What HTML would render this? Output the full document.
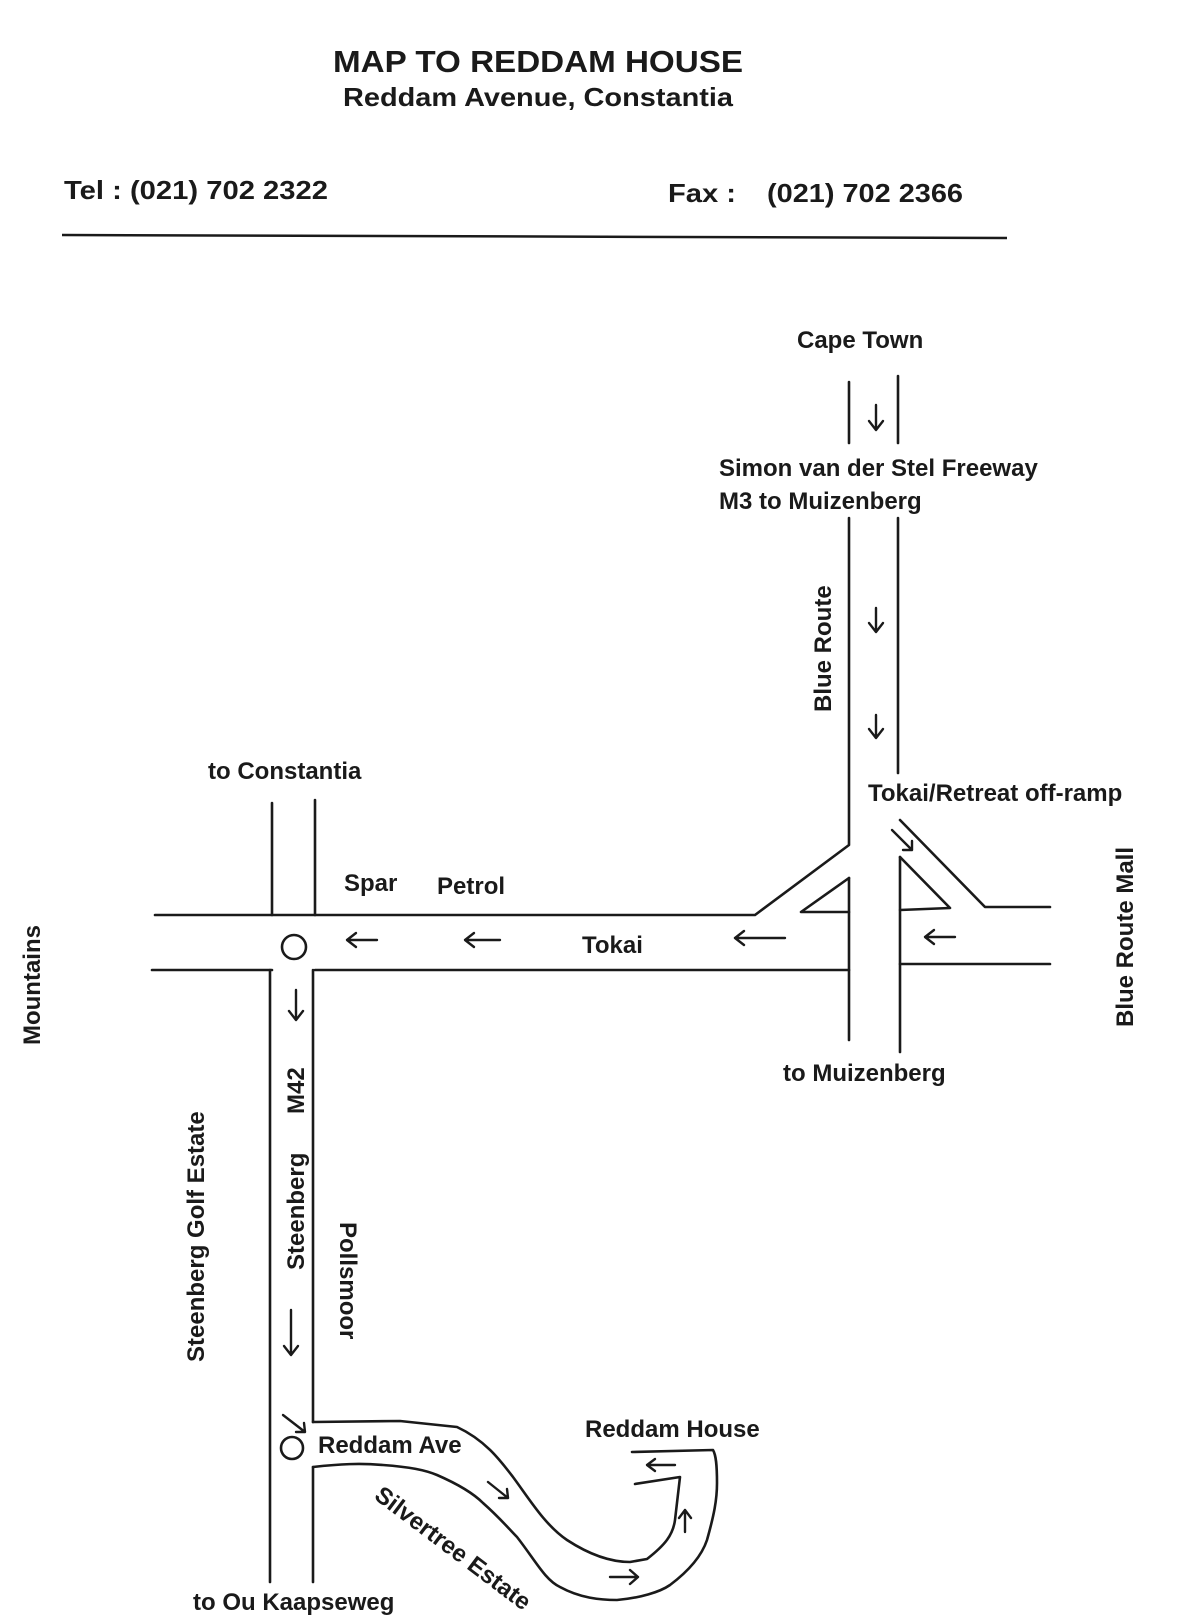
<!DOCTYPE html>
<html><head><meta charset="utf-8"><style>
html,body{margin:0;padding:0;background:#fff;}
svg{display:block;}
text{font-family:"Liberation Sans",Arial,sans-serif;fill:#1a1a1a;}
.b{font-weight:bold;}
</style></head><body>
<svg width="1188" height="1621" viewBox="0 0 1188 1621" xmlns="http://www.w3.org/2000/svg">
<rect width="1188" height="1621" fill="#fff"/>
<text class="b" x="333" y="72" font-size="31" textLength="410" lengthAdjust="spacingAndGlyphs">MAP TO REDDAM HOUSE</text>
<text class="b" x="343" y="106" font-size="26" textLength="390" lengthAdjust="spacingAndGlyphs">Reddam Avenue, Constantia</text>
<text class="b" x="64" y="199" font-size="26" textLength="264" lengthAdjust="spacingAndGlyphs">Tel : (021) 702 2322</text>
<text class="b" x="668" y="202" font-size="26" textLength="68" lengthAdjust="spacingAndGlyphs">Fax :</text>
<text class="b" x="767" y="202" font-size="26" textLength="196" lengthAdjust="spacingAndGlyphs">(021) 702 2366</text>
<line x1="62" y1="235" x2="1007" y2="238" stroke="#1a1a1a" stroke-width="2.5"/>

<g stroke="#1a1a1a" stroke-width="2.6" fill="none" stroke-linecap="round" stroke-linejoin="round">
<line x1="849" y1="382" x2="849" y2="443"/>
<line x1="898" y1="376" x2="898" y2="443"/>
<polyline points="849,518 849,845 755,915 155,915"/>
<line x1="898" y1="518" x2="898" y2="773"/>
<polyline points="900,820 985,907 1050,907"/>
<polyline points="849,878 801,912 849,912"/>
<line x1="849" y1="878" x2="849" y2="1040"/>
<polyline points="900,857 950,908 900,910"/>
<line x1="900" y1="857" x2="900" y2="1052"/>
<line x1="900" y1="964" x2="1050" y2="964"/>
<line x1="849" y1="970" x2="315" y2="970"/>
<line x1="272" y1="970" x2="152" y2="970"/>
<line x1="272" y1="803" x2="272" y2="915"/>
<line x1="315" y1="800" x2="315" y2="915"/>
<line x1="270" y1="970" x2="270" y2="1582"/>
<line x1="313" y1="970" x2="313" y2="1422"/>
<line x1="313" y1="1467" x2="313" y2="1582"/>
<circle cx="294" cy="947" r="12"/>
<circle cx="292" cy="1448" r="11"/>
<path d="M313,1422 L400,1421 L457,1427 C485,1440 500,1460 513,1477 C530,1500 545,1525 567,1540 C590,1555 610,1562 630,1562 L647,1559 C665,1545 673,1535 675,1520 L680,1477 L635,1484"/>
<path d="M313,1467 C340,1464 360,1463 383,1465 C410,1467 425,1470 437,1475 C460,1485 475,1495 483,1503 C500,1518 510,1530 517,1537 C535,1560 545,1580 560,1587 C580,1598 600,1600 617,1600 C640,1598 660,1592 670,1585 C690,1570 702,1555 707,1540 C714,1515 717,1500 717,1483 C717,1465 716,1455 713,1450 L632,1452"/>
<g stroke-width="2.4">
<path d="M876,405 V430 M869,421 L876,430 L883,421"/>
<path d="M876,608 V632 M869,623 L876,632 L883,623"/>
<path d="M876,715 V738 M869,729 L876,738 L883,729"/>
<path d="M892,830 L912,850 M903,850 L912,850 L912,841"/>
<path d="M785,938 H735 M744,931 L735,938 L744,945"/>
<path d="M955,937 H925 M934,930 L925,937 L934,944"/>
<path d="M500,940 H465 M474,933 L465,940 L474,947"/>
<path d="M377,940 H347 M356,933 L347,940 L356,947"/>
<path d="M296,990 V1020 M289,1011 L296,1020 L303,1011"/>
<path d="M291,1310 V1355 M284,1346 L291,1355 L298,1346"/>
<path d="M283,1415 L305,1432 M296,1432 L305,1432 L304,1423"/>
<path d="M508,1498 L488,1482 M499,1498 L508,1498 L507,1489"/>
<path d="M610,1577 H638 M630,1570 L638,1577 L630,1584"/>
<path d="M685,1532 V1510 M679,1518 L685,1510 L691,1518"/>
<path d="M675,1465 H647 M655,1459 L647,1465 L655,1471"/>
</g>
</g>

<g class="b" font-size="24">
<text x="797" y="348">Cape Town</text>
<text x="719" y="476">Simon van der Stel Freeway</text>
<text x="719" y="509">M3 to Muizenberg</text>
<text x="868" y="801">Tokai/Retreat off-ramp</text>
<text x="783" y="1081">to Muizenberg</text>
<text x="208" y="779">to Constantia</text>
<text x="344" y="891">Spar</text>
<text x="437" y="894">Petrol</text>
<text x="582" y="953">Tokai</text>
<text x="318" y="1453">Reddam Ave</text>
<text x="585" y="1437">Reddam House</text>
<text x="193" y="1610">to Ou Kaapseweg</text>
<text transform="translate(831,712) rotate(-90)">Blue Route</text>
<text transform="translate(1133,1027) rotate(-90)">Blue Route Mall</text>
<text transform="translate(40,1045) rotate(-90)">Mountains</text>
<text transform="translate(204,1362) rotate(-90)">Steenberg Golf Estate</text>
<text transform="translate(304,1270) rotate(-90)">Steenberg</text>
<text transform="translate(304,1114) rotate(-90)">M42</text>
<text transform="translate(340,1222) rotate(90)">Pollsmoor</text>
<text transform="translate(373,1498) rotate(37)">Silvertree Estate</text>
</g>
</svg>
</body></html>
